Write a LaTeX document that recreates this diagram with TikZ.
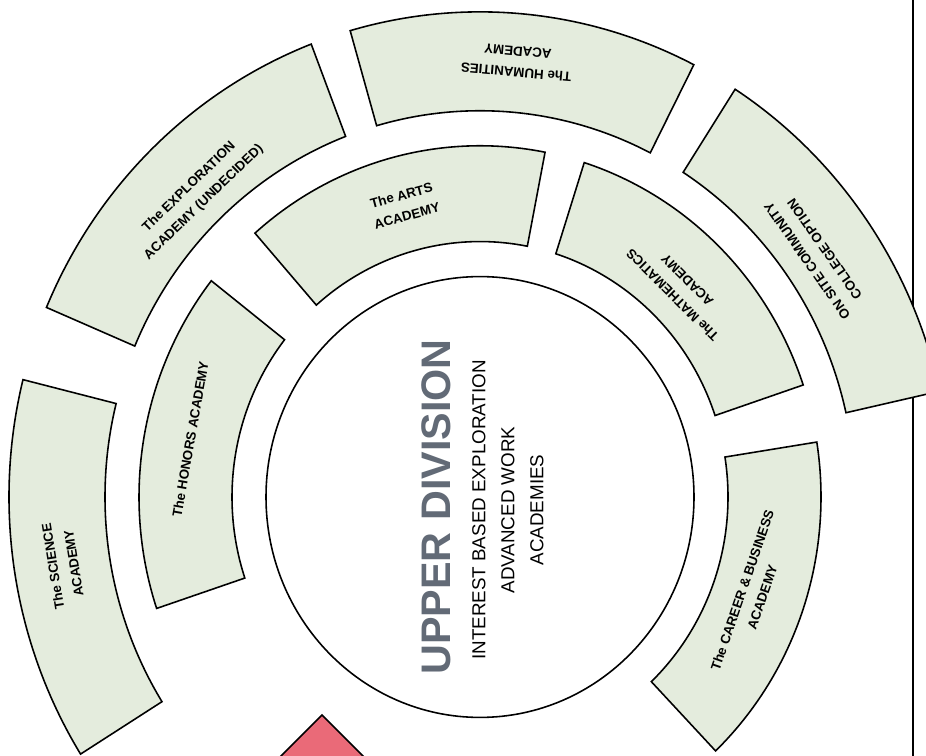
\documentclass[tikz,border=0pt]{standalone}
\usepackage{fontspec}
\setmainfont{Liberation Sans}
\usepackage{tikz}

\definecolor{segfill}{RGB}{228,236,221}
\definecolor{divgray}{RGB}{98,106,118}
\definecolor{flagred}{RGB}{234,106,120}

\tikzset{
  seg/.style={draw=black, line width=0.9pt, fill=segfill},
  lbl/.style={font=\bfseries\fontsize{7.6}{12}\selectfont, align=center, inner sep=0pt},
}

% ring piece: start angle, end angle, inner radius, outer radius
\newcommand{\ringpiece}[4]{%
  \draw[seg] (#1:#3) arc[start angle=#1, end angle=#2, radius=#3]
    -- (#2:#4) arc[start angle=#2, end angle=#1, radius=#4] -- cycle;}

\begin{document}
\begin{tikzpicture}[x=0.02cm, y=0.02cm]

  \useasboundingbox (0,0) rectangle (926,-756);
  \clip (0,0) rectangle (926,-756);

  \coordinate (O) at (480,-497);
  \coordinate (edgetop) at (913,0);
  \coordinate (edgebot) at (913,-756);
  \draw[line width=1.6pt] (edgetop) -- (edgebot);

  \begin{scope}[shift={(O)}, yscale=1.03]
    % outer ring
    \ringpiece{166}{212}{375}{471}
    \ringpiece{111}{157}{375}{471}
    \ringpiece{63}{106}{375}{471}
    \ringpiece{12.6}{57.2}{375}{471}
    % inner ring
    \ringpiece{142}{198.5}{248}{341}
    \ringpiece{79}{131.3}{248}{341}
    \ringpiece{18.6}{72.2}{248}{341}
    \ringpiece{-46.3}{9}{248}{341}

    \draw[line width=0.9pt, fill=white] (0,0) circle[radius=214];
    \coordinate (hub) at (0,0);

    \node[lbl, rotate=99]  (science)    at (189:422)  {The SCIENCE\\ACADEMY};
    \node[lbl, rotate=80]  (honors)     at (169:295)  {The HONORS ACADEMY};
    \node[lbl, rotate=44]  (explore)    at (134:408)  {The EXPLORATION\\ACADEMY (UNDECIDED)};
    \node[lbl, rotate=15]  (arts)       at (105:293)  {The ARTS\\ACADEMY};
    \node[lbl, rotate=175] (humanities) at (85:424)   {The HUMANITIES\\ACADEMY};
    \node[lbl, rotate=135] (maths)      at (45.5:285) {The MATHEMATICS\\ACADEMY};
    \node[lbl, rotate=125] (onsite)     at (35:410)   {ON SITE COMMUNITY\\COLLEGE OPTION};
    \node[lbl, rotate=71]  (career)     at (-19:288)  {The CAREER \& BUSINESS\\ACADEMY};
  \end{scope}

  \node[rotate=90, inner sep=0pt, text=divgray,
        font=\bfseries\fontsize{23.5}{24}\selectfont] (upper) at (436,-507) {UPPER DIVISION};
  \node[rotate=90, inner sep=0pt, align=center,
        font=\fontsize{10.7}{16.5}\selectfont] (sub) at (508,-510)
        {INTEREST BASED EXPLORATION\\ADVANCED WORK\\ACADEMIES};

  \draw[line width=0.9pt, fill=flagred] (322,-715) -- (392,-785) -- (322,-855) -- (252,-785) -- cycle;

\end{tikzpicture}
\end{document}
